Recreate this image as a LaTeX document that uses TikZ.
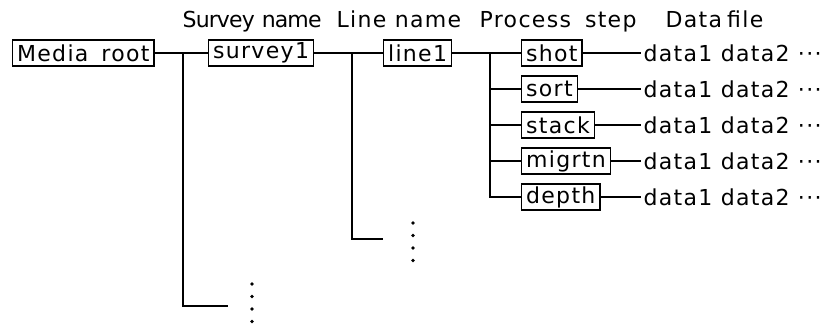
\documentclass[tikz,border=0pt]{standalone}
\usepackage{fontspec}
\setmainfont{DejaVu Sans}[LetterSpace=6]
\begin{document}
\begin{tikzpicture}[x=1pt,y=-1pt,line width=1.3pt,
  txt/.style={font=\fontsize{22}{24}\selectfont},
  box/.style={txt,draw,line width=1.2pt,inner xsep=4.5pt,inner ysep=0pt,minimum height=26pt,anchor=west},
  hdr/.style={txt,inner sep=0pt,anchor=base west},
  dat/.style={txt,inner xsep=2pt,inner ysep=0pt,anchor=west},
  vdot/.style={fill=black}]
\useasboundingbox (0,0) rectangle (830,329);
% headers
\node[hdr] (h1) at (182,28) {\addfontfeature{LetterSpace=-4}Survey\hspace{7pt}name};
\node[hdr] (h2) at (336,28) {Line name};
\node[hdr] (h3) at (479,28) {Process\hspace{14pt}step};
\node[hdr] (h4) at (665,28) {Data\hspace{5pt}file};
% main boxes
\node[box] (root) at (12,53) {Media\hspace{13pt}root};
\node[box] (survey) at (208,53) {survey1};
\node[box] (line) at (383,53) {line1};
% process steps
\node[box] (shot) at (521,53) {shot};
\node[box] (sort) at (521,89) {sort};
\node[box] (stack) at (521,125) {stack};
\node[box] (migrtn) at (521,161) {migrtn};
\node[box] (depth) at (521,197) {depth};
% data files
\foreach \n/\y in {shot/53,sort/89,stack/125,migrtn/161,depth/197}{
  \node[dat] (d\n) at (641,\y) {data1 data2 ···};
  \draw (\n.east) -- (d\n.west);
}
% junctions
\coordinate (j1) at (183,53);
\coordinate (e1) at (228,306);
\coordinate (j2) at (352,53);
\coordinate (e2) at (383,239);
\coordinate (j3) at (490,53);
\draw (root.east) -- (survey.west);
\draw (survey.east) -- (line.west);
\draw (line.east) -- (shot.west);
\draw (j1) |- (e1);
\draw (j2) |- (e2);
\draw (j3) |- (depth.west);
\foreach \n in {sort,stack,migrtn}{
  \draw (j3 |- \n.west) -- (\n.west);
}
% vertical ellipses
\foreach \y in {223,235.5,248,260.5}{ \fill[vdot] (413,\y) circle (1.8pt); }
\foreach \y in {284,296.5,309,321.5}{ \fill[vdot] (252,\y) circle (1.8pt); }
\end{tikzpicture}
\end{document}
